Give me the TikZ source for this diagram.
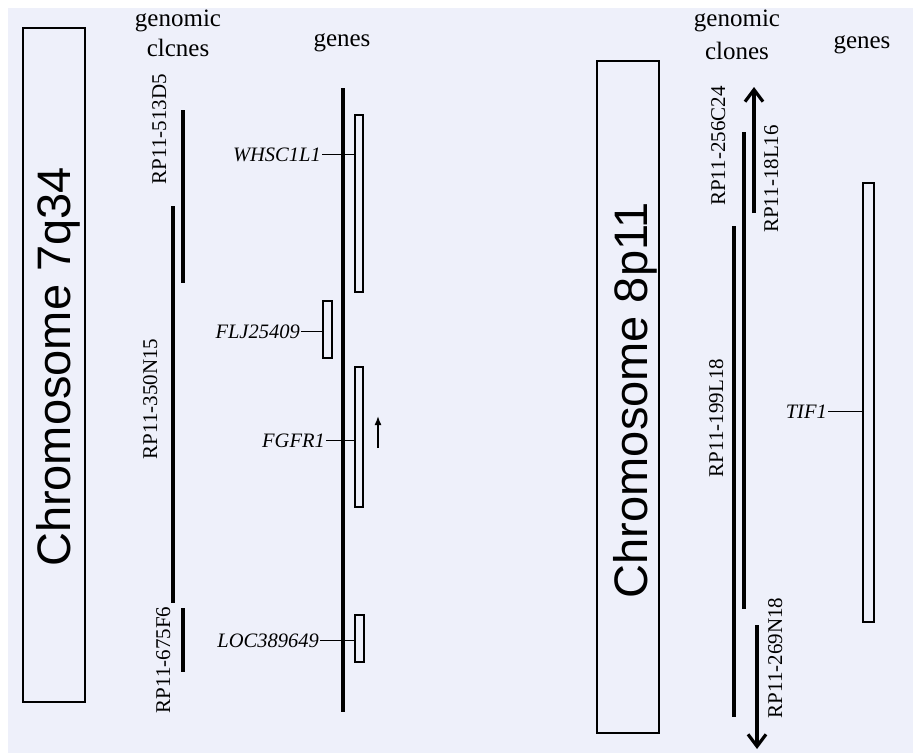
\documentclass[tikz,border=0pt]{standalone}
\usepackage{fontspec}
\setmainfont{Liberation Serif}
\newfontfamily\chrfont{Liberation Sans}
\usetikzlibrary{arrows.meta}
\definecolor{bgcol}{RGB}{238,240,250}
\tikzset{
  chrbox/.style={draw, line width=1.6pt, inner sep=0, rectangle},
  chrtext/.style={rotate=90, anchor=base, inner sep=0, font=\chrfont\fontsize{47}{47}\selectfont},
  clone/.style={line width=3.6pt},
  geneaxis/.style={line width=3.8pt},
  genebox/.style={draw, line width=1.3pt, inner sep=0, rectangle},
  genelbl/.style={anchor=base east, inner ysep=0, inner xsep=1pt, font=\fontsize{20.5}{20.5}\selectfont\itshape},
  link/.style={line width=1.3pt},
  clonelbl/.style={rotate=90, anchor=base, inner sep=0, font=\fontsize{21}{21}\selectfont},
  hdr/.style={anchor=base, inner sep=0, font=\fontsize{25}{25}\selectfont},
  bigarrow/.style={line width=3.2pt, -{Straight Barb[length=12pt,width=18pt]}},
  smallarrow/.style={line width=1.6pt, -{Latex[length=9pt,width=7pt]}}
}
\begin{document}
\begin{tikzpicture}[x=1pt,y=-1pt]
\useasboundingbox (0,0) rectangle (913,753);
\fill[white] (0,0) rectangle (913,753);
\fill[bgcol] (8,8) rectangle (913,753);

% ---------- left panel ----------
\node[chrbox, minimum width=62, minimum height=674] (chrA) at (54,365) {};
\node[chrtext] (chrAtxt) at (70,367) {Chromosome 7q34};

\node[hdr] (gcA1) at (178,26) {genomic};
\node[hdr] (gcA2) at (178,56) {clcnes};
\node[hdr] (genA) at (342,46) {genes};

\draw[clone] (183,110) -- (183,283);
\draw[clone] (173,206) -- (173,603);
\draw[clone] (183,608) -- (183,672);
\node[clonelbl] (c513) at (166,129) {RP11-513D5};
\node[clonelbl] (c350) at (157,399) {RP11-350N15};
\node[clonelbl] (c675) at (170,660) {RP11-675F6};

\draw[geneaxis] (343,88) -- (343,712);

\node[genebox, minimum width=8, minimum height=177] (bWH) at (359,203.5) {};
\node[genebox, minimum width=9, minimum height=57] (bFL) at (327.5,329.5) {};
\node[genebox, minimum width=8, minimum height=140] (bFG) at (359,437) {};
\node[genebox, minimum width=9, minimum height=47] (bLO) at (359.5,638.5) {};

\node[genelbl] (lWH) at (322,161) {WHSC1L1};
\node[genelbl] (lFL) at (301,338) {FLJ25409};
\node[genelbl] (lFG) at (326,447) {FGFR1};
\node[genelbl] (lLO) at (320,647) {LOC389649};

\draw[link] (lWH.east) -- (lWH.east -| bWH.west);
\draw[link] (lFL.east) -- (lFL.east -| bFL.west);
\draw[link] (lFG.east) -- (lFG.east -| bFG.west);
\draw[link] (lLO.east) -- (lLO.east -| bLO.west);

\coordinate (fa1) at (378,448);
\coordinate (fa2) at (378,416);
\draw[smallarrow] (fa1) -- (fa2);

% ---------- right panel ----------
\node[chrbox, minimum width=62, minimum height=672] (chrB) at (628,397) {};
\node[chrtext] (chrBtxt) at (647,400) {Chromosome 8p11};

\node[hdr] (gcB1) at (737,26) {genomic};
\node[hdr] (gcB2) at (737,59) {clones};
\node[hdr] (genB) at (862,48) {genes};

\draw[clone] (744,132) -- (744,609);
\draw[clone] (734,226) -- (734,717);
\coordinate (a18s) at (754,213);
\coordinate (a18e) at (754,87);
\draw[bigarrow] (a18s) -- (a18e);
\coordinate (a269s) at (757,625);
\coordinate (a269e) at (757,749);
\draw[bigarrow] (a269s) -- (a269e);

\node[clonelbl] (c256) at (725,146) {RP11-256C24};
\node[clonelbl] (c18) at (778,179) {RP11-18L16};
\node[clonelbl] (c199) at (723,418) {RP11-199L18};
\node[clonelbl] (c269) at (782,658) {RP11-269N18};

\node[genebox, minimum width=11, minimum height=439] (bTI) at (868.5,402.5) {};
\node[genelbl] (lTI) at (828,418) {TIF1};
\draw[link] (lTI.east) -- (lTI.east -| bTI.west);
\end{tikzpicture}
\end{document}
